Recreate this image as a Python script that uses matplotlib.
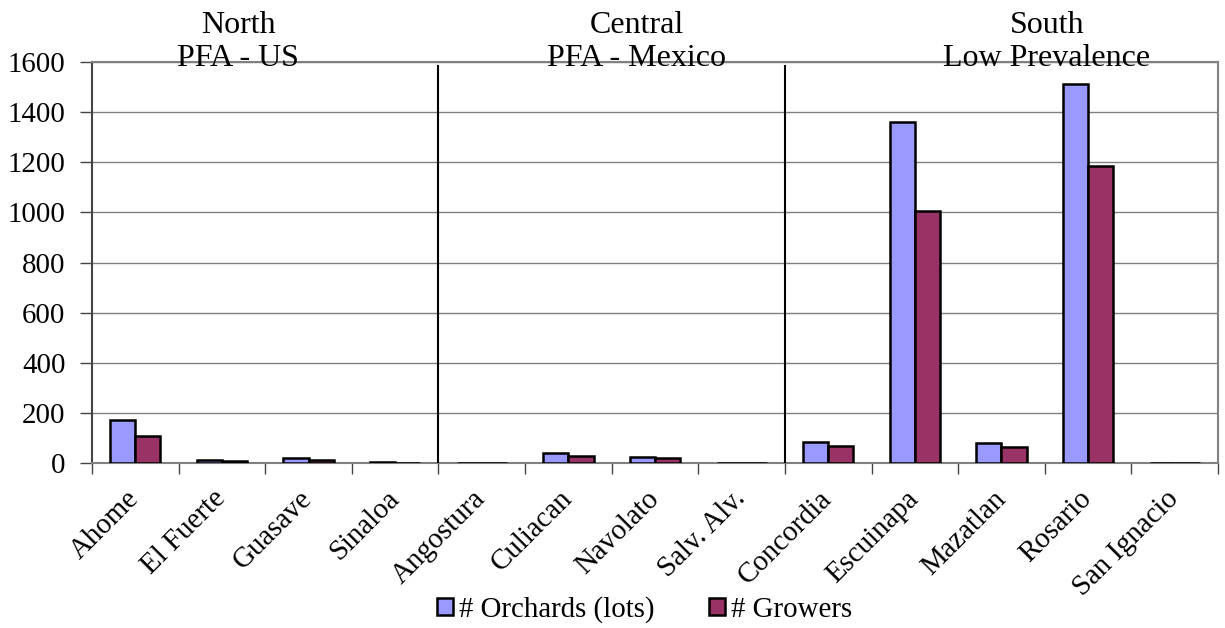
import numpy as np
import matplotlib.pyplot as plt

# Municipios de Sinaloa, agrupados por zona
municipios = ["Ahome", "El Fuerte", "Guasave", "Sinaloa", "Angostura", "Culiacan",
              "Navolato", "Salv. Alv.", "Concordia", "Escuinapa", "Mazatlan",
              "Rosario", "San Ignacio"]
huertas = [170, 12, 20, 3, 2, 40, 25, 2, 82, 1360, 78, 1512, 2]
productores = [108, 8, 14, 2, 1, 30, 19, 1, 68, 1005, 63, 1185, 1]

zonas = ["North\nPFA - US", "Central\nPFA - Mexico", "South\nLow Prevalence"]
zonas_x = [0.1297, 0.484, 0.848]
divisiones = [3.5, 7.5]

plt.rcParams['font.family'] = ['Liberation Serif', 'DejaVu Serif']
fs = 20.8
fs_zona = 23

fig = plt.figure(figsize=(12.25, 6.28), dpi=100)
ax = fig.add_axes([0.0751, 0.2627, 0.9192, 0.6386])

x = np.arange(len(municipios))
w = 0.29
ax.bar(x - w/2, huertas, w, color="#9999FF", edgecolor="black", linewidth=1.8,
       label="# Orchards (lots)", zorder=3)
ax.bar(x + w/2, productores, w, color="#993366", edgecolor="black", linewidth=1.8,
       label="# Growers", zorder=3)

ax.set_xlim(-0.5, len(municipios) - 0.5)
ax.set_ylim(0, 1600)
ax.set_yticks(np.arange(0, 1601, 200))
ax.tick_params(axis='y', labelsize=fs, length=9, width=1, color="#444444", pad=10)

ax.set_xticks(x)
ax.set_xticklabels(municipios, rotation=45, ha='right', va='center',
                   rotation_mode='anchor', fontsize=fs)
ax.tick_params(axis='x', length=0, pad=23)
ax.set_xticks(np.arange(-0.5, len(municipios)), minor=True)
ax.tick_params(axis='x', which='minor', length=8, width=1, color="#444444")

ax.grid(axis='y', color="#808080", linewidth=1, zorder=0)
for lado in ["top", "right", "bottom"]:
    ax.spines[lado].set_color("#808080")
    ax.spines[lado].set_linewidth(1.5)
ax.spines["left"].set_color("#444444")
ax.spines["left"].set_linewidth(1.5)

# separadores de zona
for d in divisiones:
    ax.plot([d, d], [0, 1585], color="black", linewidth=1.5, zorder=4)

for txt, xz in zip(zonas, zonas_x):
    ax.text(xz, 0.99, txt, transform=ax.transAxes, ha='center', va='baseline',
            fontsize=fs_zona, linespacing=1.2, zorder=5)

fig.legend(loc='center', bbox_to_anchor=(0.526, 0.029), ncol=2, frameon=False,
           fontsize=fs, handlelength=0.55, handleheight=0.55, handletextpad=0.2,
           columnspacing=1.9)

fig.savefig("out.png", dpi=100)
